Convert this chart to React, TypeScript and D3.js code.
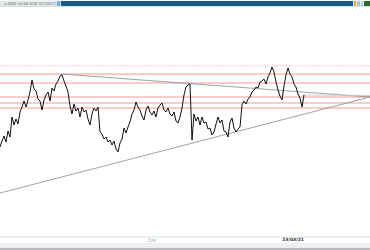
import React from 'react';
import * as d3 from 'd3';

// closing prices, one per bar
const prices: number[] = [
  1.153, 1.159, 1.164, 1.158, 1.169, 1.163, 1.183, 1.175, 1.181, 1.176,
  1.188, 1.193, 1.199, 1.193, 1.200, 1.208, 1.220, 1.211, 1.209, 1.201,
  1.199, 1.190, 1.200, 1.205, 1.208, 1.199, 1.212, 1.209, 1.216, 1.219,
  1.224, 1.225, 1.219, 1.214, 1.208, 1.194, 1.186, 1.196, 1.189, 1.192,
  1.183, 1.193, 1.188, 1.190, 1.181, 1.175, 1.186, 1.192, 1.189, 1.193,
  1.168, 1.166, 1.161, 1.163, 1.158, 1.160, 1.155, 1.159, 1.151, 1.148,
  1.157, 1.161, 1.172, 1.167, 1.173, 1.178, 1.186, 1.190, 1.198, 1.193,
  1.190, 1.184, 1.180, 1.190, 1.194, 1.188, 1.185, 1.189, 1.183, 1.192,
  1.195, 1.197, 1.190, 1.188, 1.192, 1.186, 1.184, 1.188, 1.179, 1.177,
  1.183, 1.192, 1.205, 1.213, 1.215, 1.216, 1.160, 1.186, 1.179, 1.183,
  1.175, 1.183, 1.177, 1.178, 1.171, 1.172, 1.165, 1.168, 1.176, 1.183,
  1.177, 1.180, 1.169, 1.168, 1.163, 1.178, 1.182, 1.172, 1.168, 1.171,
  1.173, 1.195, 1.199, 1.196, 1.201, 1.203, 1.208, 1.210, 1.213, 1.212,
  1.218, 1.219, 1.221, 1.216, 1.223, 1.227, 1.233, 1.228, 1.218, 1.210,
  1.204, 1.200, 1.214, 1.225, 1.232, 1.226, 1.223, 1.216, 1.213, 1.206,
  1.202, 1.193, 1.205,
];

// horizontal support / resistance levels
const levels: number[] = [1.234, 1.226, 1.217, 1.203, 1.197, 1.192];

// trend lines: [startIndex, startPrice, endIndex, endPrice]
const resistanceLine: number[] = [30.5, 1.226, 185, 1.203];
const supportLine: number[] = [0, 1.107, 185, 1.203];
const lastLine: number[] = [151, 1.205, 185, 1.2045];

// time axis
const tickIndexes: number[] = [74.5];
const tickLabels: string[] = ['20'];
const lastBarLabel = '23/03/21';
const headerText = '1.0332  10:00  5/20  3/7/20 17:00';

const W = 370;
const H = 250;

export default function App() {
  const x = d3.scaleLinear().domain([0, 185]).range([0, 370]);
  const y = d3.scaleLinear().domain([1.05, 1.3]).range([250, 0]);

  const line = d3
    .line<number>()
    .x((_, i) => x(i))
    .y((d) => y(d));

  const seg = (l: number[]) => ({ x1: x(l[0]), y1: y(l[1]), x2: x(l[2]), y2: y(l[3]) });
  const r = seg(resistanceLine);
  const s = seg(supportLine);
  const f = seg(lastLine);
  const lastIdx = prices.length - 1;

  return (
    <svg
      width={W}
      height={H}
      style={{ position: 'absolute', left: 0, top: 0, background: '#fff' }}
      fontFamily="DejaVu Sans"
    >
      <rect x={0} y={0} width={W} height={H} fill="#fff" />
      {/* header */}
      <rect x={0} y={0} width={W} height={7} fill="#f4f6f4" />
      <rect x={0} y={1} width={57} height={5} fill="#e4e6ea" />
      <text x={4} y={5} fontSize={3.6} fill="#5a6070">{headerText}</text>
      <rect x={50} y={2} width={5} height={3} fill="#c8ccd4" />
      <rect x={57} y={1} width={3} height={5} fill="#6cb4e4" />
      <rect x={61} y={1} width={292} height={5} fill="#1b5886" />
      <rect x={354} y={1} width={2} height={5} fill="#e8a040" />
      <rect x={357} y={1} width={3} height={5} fill="#b8c0c4" />
      <rect x={361} y={1} width={2} height={5} fill="#a8d4e0" />
      <rect x={364} y={1} width={6} height={5} fill="#2c6a2c" />
      <line x1={0} x2={W} y1={6.5} y2={6.5} stroke="#cfe6cf" strokeWidth={1} />

      {/* levels */}
      {levels.map((lv, i) => (
        <line
          key={i}
          x1={0}
          x2={W}
          y1={y(lv)}
          y2={y(lv)}
          stroke="#f08a8a"
          strokeWidth={1}
          strokeOpacity={i === 0 ? 0.45 : 0.85}
          strokeDasharray={i === 0 ? '2,1' : undefined}
        />
      ))}

      {/* trend lines */}
      <line {...r} stroke="#8a8a8a" strokeWidth={0.8} />
      <line {...s} stroke="#8a8a8a" strokeWidth={0.8} />
      <line {...f} stroke="#c4c4c4" strokeWidth={0.8} />
      <line x1={x(96.5)} x2={x(99)} y1={y(1.216)} y2={y(1.216)} stroke="#7fd4e8" strokeWidth={1} />
      <circle cx={x(30.5)} cy={y(1.226)} r={0.9} fill="#7fd4e8" />

      {/* price */}
      <path d={line(prices) || ''} fill="none" stroke="#111" strokeWidth={1} strokeLinejoin="miter" />

      {/* time axis */}
      <line x1={0} x2={W} y1={237} y2={237} stroke="#cfe8cf" strokeWidth={1} />
      {tickIndexes.map((ti, i) => (
        <g key={i}>
          <line x1={x(ti)} x2={x(ti)} y1={237.5} y2={242} stroke="#999" strokeWidth={0.6} />
          <text x={x(ti) + 1.5} y={242} fontSize={4} fill="#888">{tickLabels[i]}</text>
        </g>
      ))}
      <text x={x(lastIdx) - 11} y={241} fontSize={4.4} fontWeight="bold" fill="#333" textAnchor="middle">
        {lastBarLabel}
      </text>
      <rect x={0} y={243} width={W} height={5} fill="#eeeef1" />
      <line x1={0} x2={W} y1={245} y2={245} stroke="#fff" strokeWidth={0.8} strokeDasharray="1.5,2" />
      <rect x={0} y={248} width={W} height={2} fill="#b9b9be" />
    </svg>
  );
}
